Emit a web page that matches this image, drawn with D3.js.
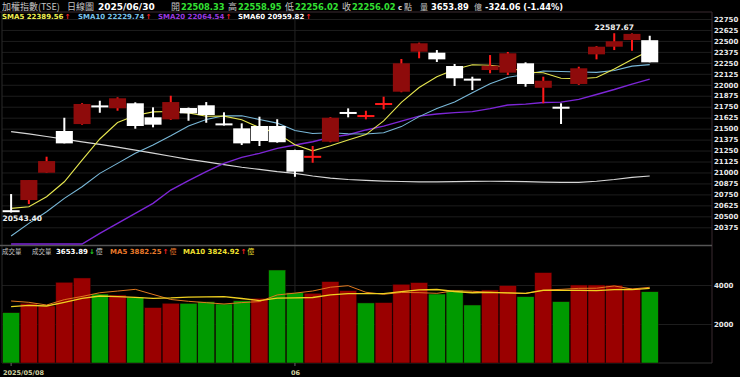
<!DOCTYPE html>
<html>
<head>
<meta charset="utf-8">
<script src="https://cdn.jsdelivr.net/npm/d3@7"></script>
<style>
  body { margin: 0; background: #000; }
  svg { display: block; }
</style>
</head>
<body>
<div id="chart"></div>
<script>
// trading days shown (TAIEX daily)
var dates = ["2025/05/08", "2025/05/09", "2025/05/12", "2025/05/13", "2025/05/14", "2025/05/15", "2025/05/16",
    "2025/05/19", "2025/05/20", "2025/05/21", "2025/05/22", "2025/05/23", "2025/05/26", "2025/05/27", "2025/05/28",
    "2025/05/29", "2025/06/02", "2025/06/03", "2025/06/04", "2025/06/05", "2025/06/06", "2025/06/09", "2025/06/10",
    "2025/06/11", "2025/06/12", "2025/06/13", "2025/06/16", "2025/06/17", "2025/06/18", "2025/06/19", "2025/06/20",
    "2025/06/23", "2025/06/24", "2025/06/25", "2025/06/26", "2025/06/27", "2025/06/30"];

var open = [20570, 20686, 20997, 21473, 21552, 21765, 21732, 21789, 21629, 21606, 21735, 21766, 21560, 21503, 21530,
    21530, 21256, 21170, 21351, 21690, 21648, 21785, 21921, 22377, 22366, 22214, 22070, 22168, 22138, 22245, 21966,
    21750, 22009, 22347, 22434, 22510, 22508.33];
var high = [20754, 20914, 21180, 21624, 21790, 21818, 21857, 21800, 21743, 21875, 21740, 21803, 21686, 21560, 21636,
    21607, 21260, 21302, 21630, 21731, 21704, 21864, 22294, 22480, 22396, 22237, 22092, 22339, 22374, 22256, 22092,
    21789, 22206, 22440, 22587.67, 22585, 22558.95];
var low = [20543.40, 20640, 20997, 21332, 21545, 21681, 21704, 21499, 21515, 21600, 21590, 21567, 21535, 21313, 21302,
    21340, 20951, 21111, 21345, 21629, 21606, 21720, 21915, 22302, 22260, 21986, 21940, 22131, 22111, 21978, 21789,
    21553, 22000, 22290, 22396, 22388, 22256.02];
var close = [20555, 20914, 21130, 21332, 21781, 21755, 21846, 21530, 21545, 21803, 21674, 21655, 21540, 21332, 21359,
    21345, 21009, 21190, 21624, 21680, 21655, 21792, 22245, 22473, 22290, 22074, 22060, 22217, 22359, 22009, 22046,
    21740, 22188, 22434, 22496, 22580.08, 22256.02];

// volume, 億
var volume = [2579, 3061, 2923, 4138, 4359, 3538, 3487, 3369, 2836, 3061, 3061, 3144, 3026, 3195, 3318, 4769, 3605,
    3574, 4169, 3708, 3080, 3092, 4036, 4118, 3538, 3743, 2974, 3743, 3964, 3400, 4631, 3144, 4000, 4000, 3990, 3831,
    3653.89];

// moving averages
var sma5 = [20591, 20609, 20723, 20894, 21142, 21382, 21569, 21649, 21691, 21696, 21680, 21641, 21643, 21601, 21512,
    21446, 21317, 21247, 21305, 21370, 21432, 21588, 21799, 21969, 22091, 22175, 22228, 22223, 22200, 22144, 22138,
    22074, 22068, 22083, 22181, 22288, 22389.56];
var sma10 = [20275, 20420, 20552, 20705, 20838, 20990, 21104, 21218, 21313, 21419, 21531, 21605, 21646, 21646, 21604,
    21563, 21479, 21445, 21453, 21441, 21439, 21453, 21523, 21637, 21730, 21803, 21908, 22011, 22085, 22117, 22157,
    22151, 22146, 22142, 22162, 22213, 22229.74];
var sma20 = [19780, 19870, 19960, 20060, 20160, 20306, 20420, 20534, 20648, 20800, 20906, 21009, 21104, 21173, 21218,
    21275, 21313, 21351, 21401, 21430, 21485, 21529, 21585, 21642, 21667, 21683, 21694, 21728, 21769, 21779, 21798,
    21802, 21834, 21889, 21946, 22008, 22064.54];
var sma60 = [21465, 21440, 21410, 21380, 21350, 21320, 21290, 21255, 21220, 21185, 21150, 21120, 21090, 21060, 21035,
    21010, 20990, 20960, 20935, 20920, 20910, 20902, 20897, 20894, 20893, 20895, 20898, 20900, 20898, 20895, 20890,
    20887, 20888, 20900, 20920, 20945, 20959.82];
var vma5 = [3180, 3112, 2974, 3250, 3412, 3604, 3689, 3778, 3518, 3258, 3163, 3094, 3026, 3097, 3149, 3490, 3583,
    3692, 3887, 3965, 3627, 3525, 3617, 3607, 3573, 3705, 3682, 3623, 3592, 3565, 3742, 3776, 3828, 3835, 3953, 3793,
    3882.25];
var vma10 = [2887, 2958, 2923, 3112, 3318, 3436, 3400, 3370, 3318, 3335, 3383, 3392, 3402, 3308, 3204, 3327, 3338,
    3359, 3492, 3557, 3559, 3554, 3655, 3747, 3769, 3666, 3603, 3620, 3600, 3569, 3724, 3729, 3726, 3714, 3759, 3768,
    3824.92];

var priceTicks = d3.range(20375, 22751, 125);
var volTicks = [2000, 4000];
var change = -324.06, changePct = -1.44;

// layout
var width = 740, height = 377;
var plotLeft = 2, plotRight = 712;
var priceTop = 12, priceBottom = 245.5, volBottom = 363;

var svg = d3.select("#chart")
    .append("svg")
    .attr("width", width)
    .attr("height", height)
    .style("background", "#000");

var n = dates.length;
var x = d3.scaleBand()
    .domain(dates)
    .range([2.6, 2.6 + n * 17.72])
    .paddingInner(0.04);
var bw = x.bandwidth();
function cx(i) { return x(dates[i]) + bw / 2; }

var y = d3.scaleLinear().domain([20375, 22750]).range([227.3, 19]);
// clamped copy for lines that run off the pane (they ride along the bottom edge)
var yc = y.copy()
    .domain([y.invert(priceBottom - 1.5), y.invert(priceTop)])
    .range([priceBottom - 1.5, priceTop])
    .clamp(true);
var yv = d3.scaleLinear().domain([0, 4000]).range([volBottom, 285]);

var numFont = "'DejaVu Sans', Verdana, sans-serif";
var cjkFont = "'Noto Sans CJK TC', 'Noto Sans', sans-serif";

// horizontal gridlines, price pane
svg.append("g")
    .attr("transform", "translate(" + plotRight + ",0)")
    .call(d3.axisLeft(y).tickValues(priceTicks).tickSize(plotRight - plotLeft).tickFormat(""))
    .call(function (g) { g.select(".domain").remove(); })
    .selectAll("line")
    .attr("stroke", "#1d1d1d");

// gridlines, volume pane
svg.append("g")
    .attr("transform", "translate(" + plotRight + ",0)")
    .call(d3.axisLeft(yv).tickValues(volTicks).tickSize(plotRight - plotLeft).tickFormat(""))
    .call(function (g) { g.select(".domain").remove(); })
    .selectAll("line")
    .attr("stroke", "#1d1d1d");

// month boundary line
var monthStarts = dates.map(function (d, i) { return i; })
    .filter(function (i) { return i === 0 || dates[i].slice(5, 7) !== dates[i - 1].slice(5, 7); });
svg.selectAll(".vgrid")
    .data(monthStarts.slice(1))
    .enter()
    .append("line")
    .attr("x1", function (i) { return cx(i); })
    .attr("x2", function (i) { return cx(i); })
    .attr("y1", priceTop)
    .attr("y2", volBottom)
    .attr("stroke", "#222");

// frame
svg.append("line").attr("x1", 0).attr("x2", plotRight).attr("y1", priceTop).attr("y2", priceTop).attr("stroke", "#3a2a30");
svg.append("line").attr("x1", plotRight).attr("x2", plotRight).attr("y1", priceTop).attr("y2", volBottom).attr("stroke", "#3a2a30");
svg.append("line").attr("x1", plotLeft).attr("x2", plotLeft).attr("y1", priceTop).attr("y2", volBottom).attr("stroke", "#2a2a2a");
svg.append("line").attr("x1", 0).attr("x2", plotRight).attr("y1", priceBottom).attr("y2", priceBottom).attr("stroke", "#555").attr("stroke-width", 1.5);
svg.append("line").attr("x1", plotLeft).attr("x2", plotRight).attr("y1", volBottom).attr("stroke", "#333").attr("y2", volBottom);

// right axis labels
svg.append("g")
    .attr("transform", "translate(" + plotRight + ",0)")
    .call(d3.axisRight(y).tickValues(priceTicks).tickSize(0).tickPadding(2).tickFormat(d3.format("d")))
    .call(function (g) { g.select(".domain").remove(); })
    .selectAll("text")
    .attr("fill", "#e8e8e8")
    .style("font-family", numFont)
    .style("font-weight", "bold")
    .style("font-size", "7px");

svg.append("g")
    .attr("transform", "translate(" + plotRight + ",0)")
    .call(d3.axisRight(yv).tickValues(volTicks).tickSize(0).tickPadding(2).tickFormat(d3.format("d")))
    .call(function (g) { g.select(".domain").remove(); })
    .selectAll("text")
    .attr("fill", "#e8e8e8")
    .style("font-family", numFont)
    .style("font-weight", "bold")
    .style("font-size", "7px");

// Draw the moving average lines (price)
var maLine = d3.line()
    .x(function (d, i) { return cx(i); })
    .y(function (d) { return yc(d); });

[[sma60, "#d6d6d6", 1.2], [sma20, "#7d26d6", 1.4], [sma10, "#79b8d8", 1.1], [sma5, "#e6e650", 1.1]]
    .forEach(function (s) {
        svg.append("path")
            .attr("fill", "none")
            .attr("stroke", s[1])
            .attr("stroke-width", s[2])
            .attr("d", maLine(s[0]));
    });

// candles
var idx = d3.range(n);
var upBody = "#8e0b0b", upWick = "#ff1a1a", downCol = "#ffffff";
function isUp(i) { return close[i] >= open[i]; }

svg.selectAll(".wick")
    .data(idx)
    .enter()
    .append("rect")
    .attr("x", function (i) { return cx(i) - 1; })
    .attr("width", 2)
    .attr("y", function (i) { return y(high[i]); })
    .attr("height", function (i) { return Math.max(1, y(low[i]) - y(high[i])); })
    .attr("fill", function (i) { return isUp(i) ? upWick : downCol; });

svg.selectAll(".body")
    .data(idx)
    .enter()
    .append("rect")
    .attr("x", function (i) { return x(dates[i]); })
    .attr("width", bw)
    .attr("y", function (i) { return y(Math.max(open[i], close[i])); })
    .attr("height", function (i) { return Math.max(2, Math.abs(y(open[i]) - y(close[i]))); })
    .attr("fill", function (i) { return isUp(i) ? (Math.abs(y(open[i]) - y(close[i])) < 3 ? upWick : upBody) : downCol; });

// high / low labels
var hiIdx = d3.maxIndex(high), loIdx = d3.minIndex(low);
svg.append("text")
    .attr("x", cx(hiIdx))
    .attr("y", y(high[hiIdx]) - 3)
    .attr("text-anchor", "middle")
    .attr("fill", "#f0f0f0")
    .style("font-family", numFont)
    .style("font-weight", "bold")
    .style("font-size", "7.5px")
    .text(high[hiIdx].toFixed(2));
svg.append("text")
    .attr("x", x(dates[loIdx]))
    .attr("y", y(low[loIdx]) + 8)
    .attr("fill", "#f0f0f0")
    .style("font-family", numFont)
    .style("font-weight", "bold")
    .style("font-size", "7.5px")
    .text(low[loIdx].toFixed(2));

// volume bars
svg.selectAll(".vol")
    .data(idx)
    .enter()
    .append("rect")
    .attr("x", function (i) { return x(dates[i]); })
    .attr("width", bw)
    .attr("y", function (i) { return yv(volume[i]); })
    .attr("height", function (i) { return yv(0) - yv(volume[i]); })
    .attr("fill", function (i) { return (i > 0 && close[i] < close[i - 1]) || (i === 0 && close[i] < open[i]) ? "#009a00" : "#9a0000"; })
    .attr("stroke", "#1a0000")
    .attr("stroke-width", 0.5);

// volume MA lines
var vLine = d3.line()
    .x(function (d, i) { return cx(i); })
    .y(function (d) { return yv(d); });
svg.append("path").attr("fill", "none").attr("stroke", "#e0781e").attr("stroke-width", 1).attr("d", vLine(vma5));
svg.append("path").attr("fill", "none").attr("stroke", "#f0d020").attr("stroke-width", 1.3).attr("d", vLine(vma10));

// x axis labels + ticks
svg.selectAll(".xtick")
    .data(monthStarts)
    .enter()
    .append("line")
    .attr("x1", function (i) { return cx(i); })
    .attr("x2", function (i) { return cx(i); })
    .attr("y1", volBottom)
    .attr("y2", volBottom + 3)
    .attr("stroke", "#666");
svg.selectAll(".xlab")
    .data(monthStarts)
    .enter()
    .append("text")
    .attr("x", function (i) { return i === 0 ? 3 : cx(i) - 4; })
    .attr("y", 375)
    .attr("fill", "#d0d0a0")
    .style("font-family", numFont)
    .style("font-weight", "bold")
    .style("font-size", "6.5px")
    .text(function (i) { return i === 0 ? dates[i] : dates[i].slice(5, 7); });

// header helper
function label(xp, yp, str, color, font, size, weight) {
    svg.append("text")
        .attr("x", xp)
        .attr("y", yp)
        .attr("fill", color)
        .style("font-family", font)
        .style("font-size", size + "px")
        .style("font-weight", weight || "normal")
        .text(str);
}

var last = n - 1;
var green = "#33e033", gray = "#c4c4c4";

// Add Chart Title row
label(2, 9.5, "加權指數(TSE)", gray, cjkFont, 9);
label(67, 9.5, "日線圖", gray, cjkFont, 9);
label(98, 9.8, dates[last], "#ffffff", numFont, 9, "bold");
label(171, 9.5, "開", gray, cjkFont, 9);
label(181, 9.5, open[last].toFixed(2), green, numFont, 8.3, "bold");
label(228, 9.5, "高", gray, cjkFont, 9);
label(238, 9.5, high[last].toFixed(2), green, numFont, 8.3, "bold");
label(285, 9.5, "低", gray, cjkFont, 9);
label(295, 9.5, low[last].toFixed(2), green, numFont, 8.3, "bold");
label(342, 9.5, "收", gray, cjkFont, 9);
label(352, 9.5, close[last].toFixed(2), green, numFont, 8.3, "bold");
label(398, 9.5, "c", "#e0e0e0", numFont, 7, "bold");
label(404, 9.5, "點", gray, cjkFont, 8);
label(420, 9.5, "量", gray, cjkFont, 8);
label(431, 9.5, volume[last].toFixed(2), "#ffffff", numFont, 8.3, "bold");
label(474, 9.5, "億", gray, cjkFont, 8);
label(485, 9.5, change.toFixed(2) + " (" + changePct.toFixed(2) + "%)", "#ffffff", numFont, 8.3, "bold");

// Add MA legend row
function legend(xp, yp, name, val, color, unit, arrowUp, size) {
    var t = svg.append("text")
        .attr("x", xp)
        .attr("y", yp)
        .style("font-family", numFont)
        .style("font-weight", "bold")
        .style("font-size", size + "px");
    if (name) t.append("tspan").attr("fill", color).text(name + " ");
    t.append("tspan").attr("fill", color).text(val.toFixed(2));
    t.append("tspan").attr("fill", arrowUp ? "#ff2020" : "#20d020").attr("dx", 1).text(arrowUp ? "↑" : "↓");
    if (unit) t.append("tspan").attr("fill", color === "#ffffff" ? gray : color).style("font-family", cjkFont).style("font-weight", "normal").attr("dx", 1).text(unit);
}
legend(2, 18.5, "SMA5", sma5[last], "#f0f050", null, true, 7);
legend(78, 18.5, "SMA10", sma10[last], "#78c4ec", null, true, 7);
legend(158, 18.5, "SMA20", sma20[last], "#9a3ae0", null, true, 7);
legend(238, 18.5, "SMA60", sma60[last], "#ffffff", null, true, 7);

// volume legend row
label(2, 253.5, "成交量", gray, cjkFont, 6.5);
label(32, 253.5, "成交量", gray, cjkFont, 6.5);
legend(56, 253.5, null, volume[last], "#ffffff", "億", false, 7);
legend(110, 253.5, "MA5", vma5[last], "#e8782a", "億", true, 7);
legend(183, 253.5, "MA10", vma10[last], "#f0e030", "億", true, 7);
</script>
</body>
</html>
